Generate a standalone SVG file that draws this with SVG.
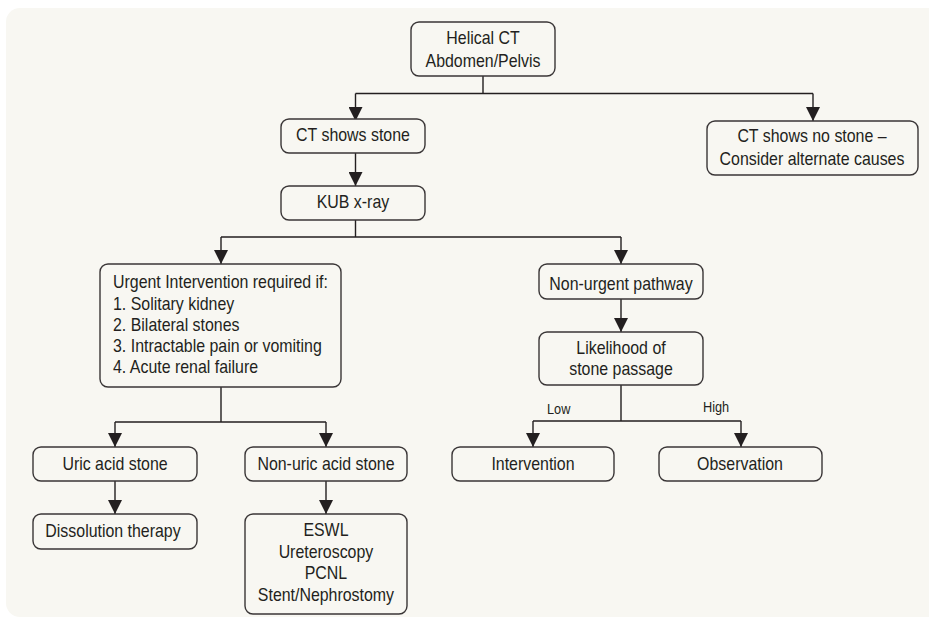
<svg xmlns="http://www.w3.org/2000/svg" width="929" height="620" viewBox="0 0 929 620">
<defs>
<marker id="arr" markerUnits="userSpaceOnUse" markerWidth="14" markerHeight="14" viewBox="0 0 14 14" refX="14" refY="7" orient="auto">
<path d="M0,0 L14,7 L0,14 Z" fill="#231f20"/>
</marker>
<style>
.box{fill:#f8f7f2;stroke:#3a3637;stroke-width:1.4}
.t{font-family:"Liberation Sans",Arial,sans-serif;font-size:17.5px;fill:#231f20;text-anchor:middle;transform:scaleX(0.91)}
.l{text-anchor:start}
.s{font-size:14px;text-anchor:start}
.c{fill:none;stroke:#231f20;stroke-width:1.4}
</style>
</defs>
<rect x="6" y="8" width="940" height="609" rx="14" fill="#f8f7f2"/>
<g id="connectors">
<path class="c" d="M483,76 V93.5 M355.5,93.5 H813"/>
<path class="c" d="M355.5,93.5 V121" marker-end="url(#arr)"/>
<path class="c" d="M813,93.5 V121" marker-end="url(#arr)"/>
<path class="c" d="M355.5,153 V186" marker-end="url(#arr)"/>
<path class="c" d="M355.5,220 V237 M221,237 H621"/>
<path class="c" d="M221,237 V264" marker-end="url(#arr)"/>
<path class="c" d="M621,237 V264" marker-end="url(#arr)"/>
<path class="c" d="M621,299 V332" marker-end="url(#arr)"/>
<path class="c" d="M621,385 V421 M533,421 H741"/>
<path class="c" d="M533,421 V447" marker-end="url(#arr)"/>
<path class="c" d="M741,421 V447" marker-end="url(#arr)"/>
<path class="c" d="M221,387 V422 M115,422 H326"/>
<path class="c" d="M115,422 V447" marker-end="url(#arr)"/>
<path class="c" d="M326,422 V447" marker-end="url(#arr)"/>
<path class="c" d="M115,481 V514" marker-end="url(#arr)"/>
<path class="c" d="M326,481 V514" marker-end="url(#arr)"/>
<text class="t s" x="601.1" y="414">Low</text>
<text class="t s" x="772.5" y="412">High</text>
</g>
<g id="helical"><rect class="box" x="411" y="22" width="144" height="54" rx="8"/><text class="t" x="530.8" y="44">Helical CT</text><text class="t" x="530.8" y="67">Abdomen/Pelvis</text></g>
<g id="ct-stone"><rect class="box" x="281" y="119" width="144" height="34" rx="8"/><text class="t" x="387.9" y="141">CT shows stone</text></g>
<g id="ct-no-stone"><rect class="box" x="707" y="121" width="211" height="54" rx="8"/><text class="t" x="892.3" y="142">CT shows no stone –</text><text class="t" x="892.3" y="165">Consider alternate causes</text></g>
<g id="kub"><rect class="box" x="281" y="186" width="144" height="34" rx="8"/><text class="t" x="387.9" y="208">KUB x-ray</text></g>
<g id="urgent"><rect class="box" x="100" y="264" width="241" height="123" rx="8"/>
<text class="t l" x="124.2" y="288">Urgent Intervention required if:</text>
<text class="t l" x="124.2" y="310">1. Solitary kidney</text>
<text class="t l" x="124.2" y="331">2. Bilateral stones</text>
<text class="t l" x="124.2" y="352">3. Intractable pain or vomiting</text>
<text class="t l" x="124.2" y="373">4. Acute renal failure</text></g>
<g id="non-urgent"><rect class="box" x="539" y="264" width="164" height="35" rx="8"/><text class="t" x="682.4" y="290">Non-urgent pathway</text></g>
<g id="likelihood"><rect class="box" x="539" y="332" width="164" height="53" rx="8"/><text class="t" x="682.4" y="354">Likelihood of</text><text class="t" x="682.4" y="375">stone passage</text></g>
<g id="intervention"><rect class="box" x="452" y="447" width="162" height="34" rx="8"/><text class="t" x="585.7" y="470">Intervention</text></g>
<g id="observation"><rect class="box" x="659" y="447" width="163" height="34" rx="8"/><text class="t" x="813.2" y="470">Observation</text></g>
<g id="uric"><rect class="box" x="33" y="447" width="164" height="34" rx="8"/><text class="t" x="126.4" y="470">Uric acid stone</text></g>
<g id="non-uric"><rect class="box" x="245" y="447" width="162" height="34" rx="8"/><text class="t" x="358.2" y="470">Non-uric acid stone</text></g>
<g id="dissolution"><rect class="box" x="33" y="514" width="164" height="35" rx="8"/><text class="t" x="124.2" y="537">Dissolution therapy</text></g>
<g id="eswl"><rect class="box" x="245" y="514" width="162" height="100" rx="8"/>
<text class="t" x="358.2" y="536">ESWL</text>
<text class="t" x="358.2" y="558">Ureteroscopy</text>
<text class="t" x="358.2" y="579">PCNL</text>
<text class="t" x="358.2" y="601">Stent/Nephrostomy</text></g>
</svg>
